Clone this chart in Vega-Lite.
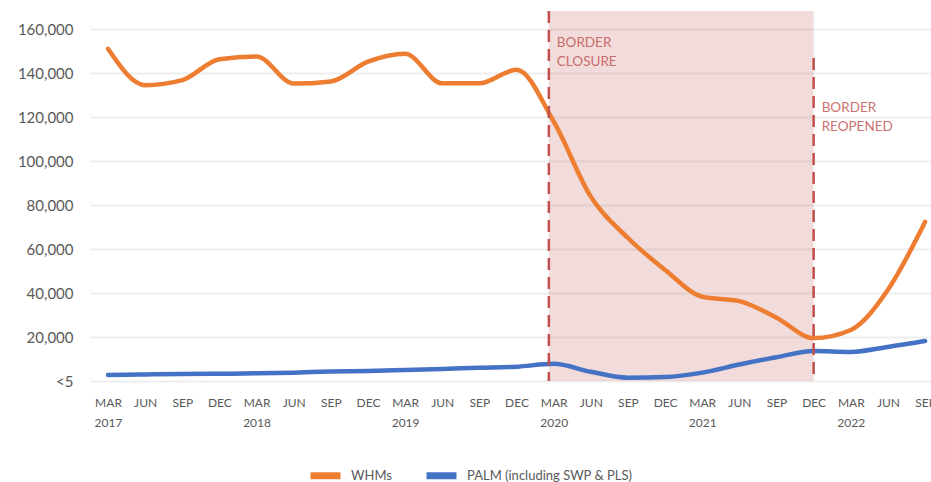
{
  "$schema": "https://vega.github.io/schema/vega-lite/v6.json",
  "autosize": {"type": "none"},
  "width": 841,
  "height": 370,
  "padding": {"left": 90, "top": 11, "right": 0, "bottom": 101},
  "background": "white",
  "config": {
    "font": "Lato",
    "view": {"stroke": null},
    "axis": {"labelFont": "Lato", "labelColor": "#595959", "labelOverlap": false, "labelBound": false},
    "legend": {"labelFont": "Lato", "labelColor": "#595959"}
  },
  "datasets": {
    "series": [
      {"t": 0, "series": "WHMs", "value": 151000},
      {"t": 1, "series": "WHMs", "value": 134500},
      {"t": 2, "series": "WHMs", "value": 136800},
      {"t": 3, "series": "WHMs", "value": 146300},
      {"t": 4, "series": "WHMs", "value": 147500},
      {"t": 5, "series": "WHMs", "value": 135200},
      {"t": 6, "series": "WHMs", "value": 136200},
      {"t": 7, "series": "WHMs", "value": 145200},
      {"t": 8, "series": "WHMs", "value": 148800},
      {"t": 9, "series": "WHMs", "value": 135300},
      {"t": 10, "series": "WHMs", "value": 135300},
      {"t": 11, "series": "WHMs", "value": 141500},
      {"t": 12, "series": "WHMs", "value": 118000},
      {"t": 13, "series": "WHMs", "value": 83800},
      {"t": 14, "series": "WHMs", "value": 65000},
      {"t": 15, "series": "WHMs", "value": 50500},
      {"t": 16, "series": "WHMs", "value": 38300},
      {"t": 17, "series": "WHMs", "value": 36300},
      {"t": 18, "series": "WHMs", "value": 28800},
      {"t": 19, "series": "WHMs", "value": 19500},
      {"t": 20, "series": "WHMs", "value": 23200},
      {"t": 21, "series": "WHMs", "value": 41500},
      {"t": 22, "series": "WHMs", "value": 72300},
      {"t": 0, "series": "PALM (including SWP & PLS)", "value": 2700},
      {"t": 1, "series": "PALM (including SWP & PLS)", "value": 3000},
      {"t": 2, "series": "PALM (including SWP & PLS)", "value": 3200},
      {"t": 3, "series": "PALM (including SWP & PLS)", "value": 3300},
      {"t": 4, "series": "PALM (including SWP & PLS)", "value": 3500},
      {"t": 5, "series": "PALM (including SWP & PLS)", "value": 3800},
      {"t": 6, "series": "PALM (including SWP & PLS)", "value": 4300},
      {"t": 7, "series": "PALM (including SWP & PLS)", "value": 4500},
      {"t": 8, "series": "PALM (including SWP & PLS)", "value": 5000},
      {"t": 9, "series": "PALM (including SWP & PLS)", "value": 5500},
      {"t": 10, "series": "PALM (including SWP & PLS)", "value": 6000},
      {"t": 11, "series": "PALM (including SWP & PLS)", "value": 6500},
      {"t": 12, "series": "PALM (including SWP & PLS)", "value": 7800},
      {"t": 13, "series": "PALM (including SWP & PLS)", "value": 4200},
      {"t": 14, "series": "PALM (including SWP & PLS)", "value": 1500},
      {"t": 15, "series": "PALM (including SWP & PLS)", "value": 1800},
      {"t": 16, "series": "PALM (including SWP & PLS)", "value": 3800},
      {"t": 17, "series": "PALM (including SWP & PLS)", "value": 7500},
      {"t": 18, "series": "PALM (including SWP & PLS)", "value": 10800},
      {"t": 19, "series": "PALM (including SWP & PLS)", "value": 13600},
      {"t": 20, "series": "PALM (including SWP & PLS)", "value": 13200},
      {"t": 21, "series": "PALM (including SWP & PLS)", "value": 15500},
      {"t": 22, "series": "PALM (including SWP & PLS)", "value": 18200}
    ],
    "band": [{"start": 11.87, "end": 19, "top": 168200}],
    "events": [
      {"t": 11.87, "top": 168200, "label": "BORDER\nCLOSURE", "labelY": 153600},
      {"t": 19, "top": 146800, "label": "BORDER\nREOPENED", "labelY": 124100}
    ]
  },
  "layer": [
    {
      "data": {"name": "band"},
      "mark": {"type": "rect", "color": "#C0504D", "opacity": 0.2},
      "encoding": {
        "x": {"field": "start", "type": "quantitative", "scale": {"domain": [-0.485, 22.16], "nice": false, "zero": false}},
        "x2": {"field": "end"},
        "y": {"field": "top", "type": "quantitative"},
        "y2": {"datum": 0}
      }
    },
    {
      "data": {"name": "series"},
      "mark": {"type": "line", "strokeWidth": 4.5, "interpolate": "monotone", "strokeCap": "round", "strokeJoin": "round"},
      "encoding": {
        "x": {
          "field": "t", "type": "quantitative",
          "scale": {"domain": [-0.485, 22.16], "nice": false, "zero": false},
          "axis": {
            "title": null, "values": [0,1,2,3,4,5,6,7,8,9,10,11,12,13,14,15,16,17,18,19,20,21,22],
            "tickCount": 40,
            "labelExpr": "datum.value % 4 == 0 ? ['MAR', '' + (2017 + datum.value / 4)] : ['MAR','JUN','SEP','DEC'][datum.value % 4]",
            "grid": false, "ticks": false, "domain": false,
            "labelFontSize": 12, "labelPadding": 16, "labelLineHeight": 20,
            "labelBaseline": "top", "labelFlush": false, "labelOverlap": false
          }
        },
        "y": {
          "field": "value", "type": "quantitative",
          "scale": {"domain": [0, 168200], "nice": false},
          "axis": {
            "title": null,
            "values": [0, 20000, 40000, 60000, 80000, 100000, 120000, 140000, 160000],
            "tickCount": 20,
            "labelExpr": "datum.value == 0 ? '<5' : format(datum.value, ',')",
            "grid": true, "gridColor": "#EEEEEE", "gridWidth": 2,
            "ticks": false, "domain": false,
            "labelFontSize": 15, "labelPadding": 17
          }
        },
        "color": {
          "field": "series", "type": "nominal",
          "scale": {"domain": ["WHMs", "PALM (including SWP & PLS)"], "range": ["#ED7D31", "#4472C4"]},
          "legend": {
            "title": null, "orient": "none", "direction": "horizontal",
            "legendX": 217, "legendY": 446,
            "symbolType": "stroke", "symbolSize": 900, "symbolStrokeWidth": 7,
            "labelFontSize": 13, "labelOffset": 7, "labelLimit": 400, "columnPadding": 20, "padding": 0
          }
        }
      }
    },
    {
      "data": {"name": "events"},
      "mark": {"type": "rule", "color": "#C0504D", "strokeWidth": 2.5, "strokeDash": [12, 7]},
      "encoding": {
        "x": {"field": "t", "type": "quantitative"},
        "y": {"field": "top", "type": "quantitative"},
        "y2": {"datum": 0}
      }
    },
    {
      "data": {"name": "events"},
      "mark": {"type": "text", "align": "left", "baseline": "middle", "dx": 8, "lineBreak": "\n", "lineHeight": 19, "fontSize": 13.5, "color": "#C0504D", "opacity": 0.8},
      "encoding": {
        "x": {"field": "t", "type": "quantitative"},
        "y": {"field": "labelY", "type": "quantitative"},
        "text": {"field": "label"}
      }
    }
  ]
}
